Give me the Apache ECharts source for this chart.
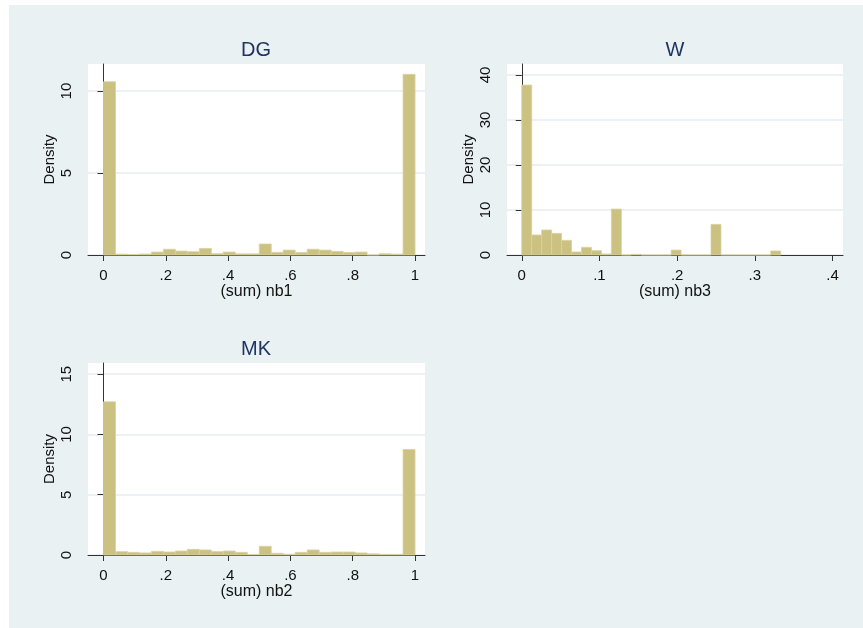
<!DOCTYPE html>
<html>
<head>
<meta charset="utf-8">
<script src="https://cdn.jsdelivr.net/npm/echarts@6/dist/echarts.min.js"></script>
<style>
  html, body { margin: 0; padding: 0; background: #ffffff; }
  #frame { position: absolute; left: 9px; top: 5px; width: 854px; height: 623px; background: #e9f1f3; }
  #chart { position: absolute; left: 0; top: 0; width: 863px; height: 628px; }
</style>
</head>
<body>
<div id="frame"></div>
<div id="chart"></div>
<script>
// Histogram densities, 26 equal-width bins per variable
const dgRange = [0, 1];
const dgDensity = [10.57, 0.05, 0.03, 0.06, 0.18, 0.35, 0.24, 0.2, 0.4, 0.08, 0.18, 0.07, 0.07,
                   0.67, 0.16, 0.3, 0.15, 0.35, 0.3, 0.22, 0.15, 0.18, 0, 0.08, 0.05, 11.02];

const wRange = [0, 1 / 3];
const wDensity = [37.75, 4.44, 5.55, 4.8, 3.26, 0.67, 1.7, 0.96, 0.22, 10.2, 0, 0.15, 0,
                  0, 0, 1.1, 0, 0, 0, 6.8, 0, 0, 0, 0, 0, 0.9];

const mkRange = [0, 1];
const mkDensity = [12.71, 0.28, 0.22, 0.17, 0.3, 0.25, 0.33, 0.47, 0.42, 0.28, 0.33, 0.22, 0.04,
                   0.72, 0.14, 0.06, 0.22, 0.42, 0.22, 0.25, 0.25, 0.17, 0.1, 0.05, 0.05, 8.75];

// Tick positions and their labels
const unitTicks = [0, 0.2, 0.4, 0.6, 0.8, 1];
const unitTickLabels = ['0', '.2', '.4', '.6', '.8', '1'];
const wTicks = [0, 0.1, 0.2, 0.3, 0.4];
const wTickLabels = ['0', '.1', '.2', '.3', '.4'];
const dgYTicks = [0, 5, 10];
const wYTicks = [0, 10, 20, 30, 40];
const mkYTicks = [0, 5, 10, 15];

const panelTitles = ['DG', 'W', 'MK'];
const xNames = ['(sum) nb1', '(sum) nb3', '(sum) nb2'];
const yName = 'Density';

const FONT = '"Liberation Sans", Arial, sans-serif';
const BAR_FILL = '#cbc282';
const BAR_EDGE = '#d9d19e';
const GRID_LINE = '#e4edf0';
const AXIS = '#333333';

function bins(range, dens) {
  const w = (range[1] - range[0]) / dens.length;
  return dens.map((d, i) => [range[0] + i * w, range[0] + (i + 1) * w, d]);
}

function labeler(ticks, labels) {
  return v => {
    const i = ticks.findIndex(t => Math.abs(t - v) < 1e-9);
    return i >= 0 ? labels[i] : '';
  };
}

function xAxisCfg(gi, min, max, ticks, labels, name) {
  return {
    type: 'value', gridIndex: gi, min: min, max: max,
    axisLine: { show: true, onZero: false, lineStyle: { color: AXIS, width: 1 } },
    axisTick: { show: true, customValues: ticks, length: 6, lineStyle: { color: AXIS } },
    axisLabel: { customValues: ticks, formatter: labeler(ticks, labels), margin: 13,
                 fontSize: 15, color: '#111', fontFamily: FONT },
    splitLine: { show: false },
    name: name, nameLocation: 'middle', nameGap: 29,
    nameTextStyle: { fontSize: 16, color: '#111', fontFamily: FONT }
  };
}

function yAxisCfg(gi, max, ticks) {
  return {
    type: 'value', gridIndex: gi, min: 0, max: max,
    axisLine: { show: true, lineStyle: { color: AXIS, width: 1 } },
    axisTick: { show: true, customValues: ticks, length: 6, lineStyle: { color: AXIS } },
    axisLabel: { customValues: ticks, rotate: 90, margin: 14, fontSize: 15, color: '#111', fontFamily: FONT },
    splitLine: { show: true, lineStyle: { color: GRID_LINE, width: 1.5 } },
    name: yName, nameLocation: 'middle', nameGap: 31, nameRotate: 90,
    nameTextStyle: { fontSize: 15, color: '#111', fontFamily: FONT }
  };
}

function histSeries(gi, data) {
  return {
    type: 'custom', xAxisIndex: gi, yAxisIndex: gi, data: data,
    renderItem: (params, api) => {
      const p0 = api.coord([api.value(0), api.value(2)]);
      const p1 = api.coord([api.value(1), 0]);
      return {
        type: 'rect',
        shape: { x: p0[0], y: p0[1], width: p1[0] - p0[0], height: p1[1] - p0[1] },
        style: { fill: BAR_FILL, stroke: BAR_EDGE, lineWidth: 0.8 }
      };
    },
    encode: { x: [0, 1], y: 2 }
  };
}

const grids = [
  { left: 88, top: 64, width: 337, height: 191 },
  { left: 507, top: 64, width: 336, height: 191 },
  { left: 88, top: 363, width: 337, height: 192 }
].map(g => Object.assign(g, { show: true, backgroundColor: '#ffffff', borderWidth: 0, containLabel: false }));

const titlePos = [[256, 50], [675, 50], [256, 349]];

const chart = echarts.init(document.getElementById('chart'), null, { renderer: 'canvas' });
chart.setOption({
  animation: false,
  backgroundColor: 'transparent',
  grid: grids,
  xAxis: [
    xAxisCfg(0, -0.0498, 1.032, unitTicks, unitTickLabels, xNames[0]),
    xAxisCfg(1, -0.019, 0.4135, wTicks, wTickLabels, xNames[1]),
    xAxisCfg(2, -0.0498, 1.032, unitTicks, unitTickLabels, xNames[2])
  ],
  yAxis: [
    yAxisCfg(0, 11.65, dgYTicks),
    yAxisCfg(1, 42.44, wYTicks),
    yAxisCfg(2, 15.93, mkYTicks)
  ],
  series: [
    histSeries(0, bins(dgRange, dgDensity)),
    histSeries(1, bins(wRange, wDensity)),
    histSeries(2, bins(mkRange, mkDensity))
  ],
  graphic: panelTitles.map((t, i) => ({
    type: 'text', x: titlePos[i][0], y: titlePos[i][1],
    style: { text: t, align: 'center', verticalAlign: 'middle',
             font: '20px ' + FONT, fill: '#1e3461' }
  }))
});
</script>
</body>
</html>
